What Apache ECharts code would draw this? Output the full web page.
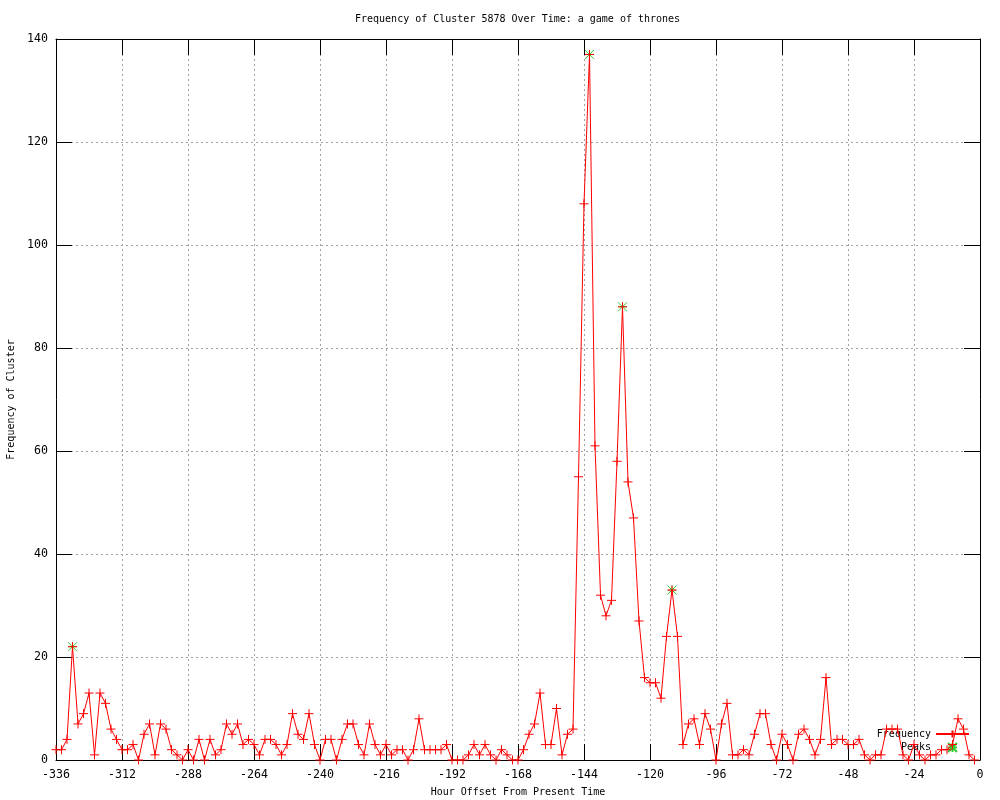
<!DOCTYPE html>
<html>
<head>
<meta charset="utf-8">
<script src="https://cdn.jsdelivr.net/npm/echarts@6/dist/echarts.min.js"></script>
<style>html,body{margin:0;padding:0;background:#fff}#c{width:1000px;height:800px}</style>
</head>
<body>
<div id="c"></div>
<script>
const titleText = 'Frequency of Cluster 5878 Over Time: a game of thrones';
const xAxisTitle = 'Hour Offset From Present Time';
const yAxisTitle = 'Frequency of Cluster';

const hours = [
 -336,-334,-332,-330,-328,-326,-324,-322,-320,-318,-316,-314,-312,-310,-308,-306,-304,-302,-300,-298,
 -296,-294,-292,-290,-288,-286,-284,-282,-280,-278,-276,-274,-272,-270,-268,-266,-264,-262,-260,-258,
 -256,-254,-252,-250,-248,-246,-244,-242,-240,-238,-236,-234,-232,-230,-228,-226,-224,-222,-220,-218,
 -216,-214,-212,-210,-208,-206,-204,-202,-200,-198,-196,-194,-192,-190,-188,-186,-184,-182,-180,-178,
 -176,-174,-172,-170,-168,-166,-164,-162,-160,-158,-156,-154,-152,-150,-148,-146,-144,-142,-140,-138,
 -136,-134,-132,-130,-128,-126,-124,-122,-120,-118,-116,-114,-112,-110,-108,-106,-104,-102,-100,-98,
 -96,-94,-92,-90,-88,-86,-84,-82,-80,-78,-76,-74,-72,-70,-68,-66,-64,-62,-60,-58,
 -56,-54,-52,-50,-48,-46,-44,-42,-40,-38,-36,-34,-32,-30,-28,-26,-24,-22,-20,-18,
 -16,-14,-12,-10,-8,-6,-4,-2
];
const frequency = [
 2,2,4,22,7,9,13,1,13,11,6,4,2,2,3,0,5,7,1,7,
 6,2,1,0,2,0,4,0,4,1,2,7,5,7,3,4,3,1,4,4,
 3,1,3,9,5,4,9,3,0,4,4,0,4,7,7,3,1,7,3,1,
 3,1,2,2,0,2,8,2,2,2,2,3,0,0,0,1,3,1,3,1,
 0,2,1,0,0,2,5,7,13,3,3,10,1,5,6,55,108,137,61,32,
 28,31,58,88,54,47,27,16,15,15,12,24,33,24,3,7,8,3,9,6,
 0,7,11,1,1,2,1,5,9,9,3,0,5,3,0,5,6,4,1,4,
 16,3,4,4,3,3,4,1,0,1,1,6,6,6,1,0,3,1,0,1,
 1,2,2,3,8,6,1,0
];
const peakHours = [-330, -142, -130, -112];
const peakValues = [22, 137, 88, 33];

const xTicks = {min: -336, max: 0, interval: 24};
const yTicks = {min: 0, max: 140, interval: 20};

const FONT = 'DejaVu Sans Mono';
const plusPath = 'path://M0,5L10,5M5,0L5,10';
const starPath = 'path://M0,0L10,10M10,0L0,10M5,0L5,10M0,5L10,5';

const freqData = hours.map((h, i) => [h, frequency[i]]);
const peakData = peakHours.map((h, i) => [h, peakValues[i]]);

const chart = echarts.init(document.getElementById('c'), null, {renderer: 'canvas'});
const txt = {color: '#000', fontFamily: FONT, fontSize: 10};
const tickTxt = {color: '#000', fontFamily: FONT, fontSize: 11.6};
const grid = '#a0a0a0';

chart.setOption({
  animation: false,
  backgroundColor: '#fff',
  title: {
    text: titleText, left: 355, top: 14, padding: 0,
    textStyle: Object.assign({fontWeight: 'normal'}, txt)
  },
  grid: {left: 56, right: 20, top: 39, bottom: 40, containLabel: false, outerBoundsMode: 'none'},
  legend: {
    orient: 'vertical', right: 30, top: 729, align: 'right', padding: 0,
    itemWidth: 33, itemHeight: 9, itemGap: 3,
    textStyle: txt,
    data: [{name: 'Frequency'}, {name: 'Peaks'}]
  },
  xAxis: [{
    type: 'value', position: 'bottom', min: xTicks.min, max: xTicks.max, interval: xTicks.interval,
    name: xAxisTitle, nameLocation: 'middle', nameGap: 27, nameTextStyle: txt,
    axisLine: {show: true, onZero: false, lineStyle: {color: '#000', width: 1}},
    axisTick: {show: true, inside: true, length: 16, lineStyle: {color: '#000'}},
    axisLabel: Object.assign({margin: 9}, tickTxt),
    splitLine: {show: true, lineStyle: {color: grid, type: [2, 3], width: 1}}
  }, {
    type: 'value', position: 'top', min: xTicks.min, max: xTicks.max, interval: xTicks.interval,
    axisLine: {show: true, onZero: false, lineStyle: {color: '#000', width: 1}},
    axisTick: {show: true, inside: true, length: 16, lineStyle: {color: '#000'}},
    axisLabel: {show: false}, splitLine: {show: false}
  }],
  yAxis: [{
    type: 'value', position: 'left', min: yTicks.min, max: yTicks.max, interval: yTicks.interval,
    name: yAxisTitle, nameLocation: 'middle', nameGap: 38, nameRotate: 90, nameTextStyle: txt,
    axisLine: {show: true, onZero: false, lineStyle: {color: '#000', width: 1}},
    axisTick: {show: true, inside: true, length: 16, lineStyle: {color: '#000'}},
    axisLabel: Object.assign({margin: 8}, tickTxt),
    splitLine: {show: true, lineStyle: {color: grid, type: [2, 3], width: 1}}
  }, {
    type: 'value', position: 'right', min: yTicks.min, max: yTicks.max, interval: yTicks.interval,
    axisLine: {show: true, onZero: false, lineStyle: {color: '#000', width: 1}},
    axisTick: {show: true, inside: true, length: 16, lineStyle: {color: '#000'}},
    axisLabel: {show: false}, splitLine: {show: false}
  }],
  series: [{
    name: 'Peaks', type: 'scatter', xAxisIndex: 0, yAxisIndex: 0,
    data: peakData, symbol: starPath, symbolSize: 9, z: 3,
    itemStyle: {color: '#00c000', borderColor: '#00c000', borderWidth: 1}
  }, {
    name: 'Frequency', type: 'line', xAxisIndex: 0, yAxisIndex: 0,
    data: freqData, symbol: plusPath, symbolSize: 9, showSymbol: true, z: 4,
    lineStyle: {color: '#ff0000', width: 1},
    itemStyle: {color: '#ff0000', borderColor: '#ff0000', borderWidth: 1}
  }]
});
</script>
</body>
</html>
